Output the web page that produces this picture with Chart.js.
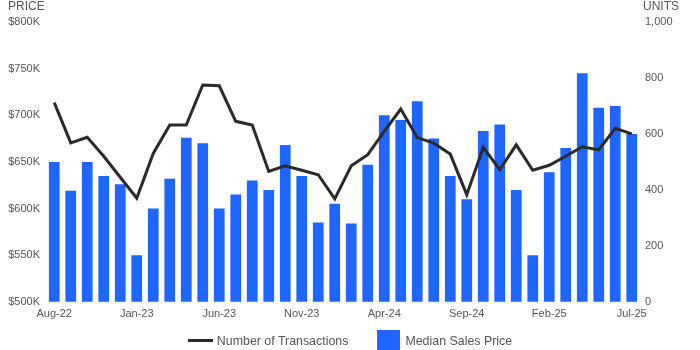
<!DOCTYPE html>
<html>
<head>
<meta charset="utf-8">
<script src="https://cdn.jsdelivr.net/npm/chart.js@4.4.1/dist/chart.umd.min.js"></script>
<style>
  html, body { margin: 0; padding: 0; background: #fff; }
  #wrap { position: relative; width: 700px; height: 350px; }
  #legend {
    position: absolute; left: 0; top: 330px; width: 700px; height: 21px;
    display: flex; justify-content: center; align-items: center;
    font: 12.4px 'Liberation Sans', Arial, sans-serif; color: #555;
  }
  #legend .item { display: flex; align-items: center; }
  #legend .item + .item { margin-left: 29px; }
  #legend .sw { margin-right: 4px; }
</style>
</head>
<body>
<div id="wrap">
  <canvas id="salesChart" width="700" height="350"></canvas>
  <div id="legend"></div>
</div>
<script>
const months = ['Aug-22','Sep-22','Oct-22','Nov-22','Dec-22','Jan-23','Feb-23','Mar-23','Apr-23','May-23','Jun-23','Jul-23',
  'Aug-23','Sep-23','Oct-23','Nov-23','Dec-23','Jan-24','Feb-24','Mar-24','Apr-24','May-24','Jun-24','Jul-24',
  'Aug-24','Sep-24','Oct-24','Nov-24','Dec-24','Jan-25','Feb-25','Mar-25','Apr-25','May-25','Jun-25','Jul-25'];

// median sales price, in $K
const medianPrice = [650,619,650,635,626,550,600,632,676,670,600,615,
  630,620,668,635,585,605,584,647,700,695,715,675,
  635,610,683,690,620,550,639,665,745,708,710,680];

// number of transactions (units)
const transactions = [712,568,588,520,445,370,530,632,632,775,772,645,
  632,466,486,470,454,368,486,526,609,689,587,567,
  528,383,552,472,561,470,488,520,554,543,620,600];

const priceTicks = [500,550,600,650,700,750,800];
const unitTicks = [0,200,400,600,800,1000];

const FONT = "'Liberation Sans', Arial, sans-serif";
const TXT = '#555555';
const BLUE = '#1f65ff';
const DARK = '#2a2a2a';

const axisTitles = {
  id: 'axisTitles',
  afterDraw(chart){
    const ctx = chart.ctx;
    ctx.save();
    ctx.font = '12px ' + FONT;
    ctx.fillStyle = TXT;
    ctx.textBaseline = 'alphabetic';
    ctx.textAlign = 'left';
    ctx.fillText('PRICE', 8, 10);
    ctx.fillText('UNITS', 643, 10);
    ctx.restore();
  }
};

// html legend under the plot, built from the datasets
const htmlLegend = {
  id: 'htmlLegend',
  afterUpdate(chart){
    const box = document.getElementById('legend');
    box.innerHTML = '';
    chart.data.datasets.forEach(ds => {
      const item = document.createElement('div');
      item.className = 'item';
      const sw = document.createElement('span');
      sw.className = 'sw';
      sw.style.display = 'inline-block';
      sw.style.background = ds.type === 'line' ? ds.borderColor : ds.backgroundColor;
      sw.style.width = ds.type === 'line' ? '25px' : '23px';
      sw.style.height = ds.type === 'line' ? '3px' : '21px';
      if (ds.type !== 'line') sw.style.marginRight = '5px';
      const txt = document.createElement('span');
      txt.textContent = ds.label;
      item.appendChild(sw);
      item.appendChild(txt);
      box.appendChild(item);
    });
  }
};

new Chart(document.getElementById('salesChart').getContext('2d'), {
  type: 'bar',
  data: {
    labels: months,
    datasets: [{
      type: 'line',
      label: 'Number of Transactions',
      data: transactions,
      yAxisID: 'units',
      borderColor: DARK,
      borderWidth: 3,
      pointRadius: 0,
      tension: 0,
      fill: false,
      order: 0
    }, {
      type: 'bar',
      label: 'Median Sales Price',
      data: medianPrice,
      yAxisID: 'price',
      backgroundColor: BLUE,
      barPercentage: 0.65,
      categoryPercentage: 1,
      order: 1
    }]
  },
  options: {
    responsive: false,
    animation: false,
    layout: { padding: { top: 22, bottom: 23, left: 0, right: 0 } },
    scales: {
      x: {
        grid: { display: false, drawTicks: false },
        border: { display: false },
        ticks: {
          autoSkip: false,
          maxRotation: 0,
          padding: 6,
          color: TXT,
          font: { family: FONT, size: 11 },
          callback: (v, i) => i % 5 === 0 ? months[i] : ''
        }
      },
      price: {
        position: 'left',
        min: 500, max: 800,
        afterFit: s => { s.width = 46; },
        afterBuildTicks: s => { s.ticks = priceTicks.map(v => ({ value: v })); },
        grid: { display: false, drawTicks: false },
        border: { display: false },
        ticks: {
          padding: 6,
          color: TXT,
          font: { family: FONT, size: 11 },
          callback: v => '$' + v + 'K'
        }
      },
      units: {
        position: 'right',
        min: 0, max: 1000,
        afterFit: s => { s.width = 60; },
        afterBuildTicks: s => { s.ticks = unitTicks.map(v => ({ value: v })); },
        grid: { display: false, drawTicks: false },
        border: { display: false },
        ticks: {
          padding: 5,
          color: TXT,
          font: { family: FONT, size: 11 },
          callback: v => v.toLocaleString('en-US')
        }
      }
    },
    plugins: {
      tooltip: { enabled: false },
      legend: { display: false }
    }
  },
  plugins: [axisTitles, htmlLegend]
});
</script>
</body>
</html>
